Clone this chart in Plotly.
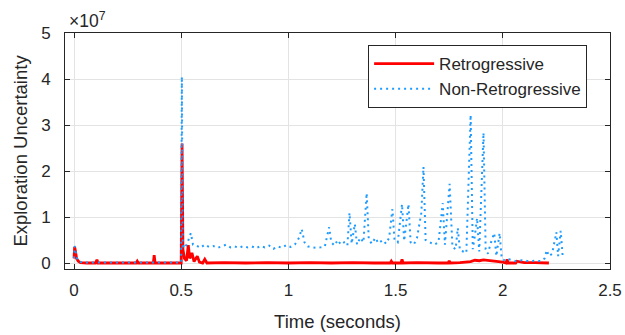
import plotly.graph_objects as go

# Retrogressive series (time in s, value in units of 1e7)
retro_t = [0.000, 0.003, 0.007, 0.012, 0.020, 0.030, 0.060, 0.100, 0.107, 0.112, 0.200,
           0.290, 0.295, 0.300, 0.370, 0.374, 0.378, 0.450, 0.500, 0.504, 0.508, 0.515,
           0.525, 0.533, 0.540, 0.550, 0.560, 0.575, 0.585, 0.600, 0.610, 0.620, 0.700,
           0.800, 0.900, 1.000, 1.100, 1.200, 1.300, 1.400, 1.475, 1.480, 1.485, 1.525,
           1.530, 1.535, 1.600, 1.700, 1.745, 1.750, 1.755, 1.800, 1.850, 1.870, 1.890,
           1.910, 1.930, 1.950, 1.970, 2.000, 2.015, 2.020, 2.025, 2.060, 2.065, 2.100,
           2.150, 2.215]
retro_v = [0.10, 0.35, 0.25, 0.10, 0.04, 0.01, 0.00, 0.00, 0.07, 0.00, 0.00,
           0.00, 0.04, 0.00, 0.00, 0.17, 0.00, 0.00, 0.00, 2.60, 0.30, 0.10,
           0.05, 0.39, 0.10, 0.22, 0.03, 0.15, 0.02, 0.00, 0.08, 0.00, 0.01,
           0.00, 0.01, 0.00, 0.01, 0.00, 0.01, 0.00, 0.00, 0.04, 0.00, 0.00,
           0.08, 0.00, 0.01, 0.00, 0.00, 0.05, 0.00, 0.01, 0.03, 0.06, 0.05,
           0.07, 0.06, 0.04, 0.03, 0.02, 0.00, 0.08, 0.00, 0.00, 0.04, 0.01,
           0.01, 0.00]

# Non-Retrogressive series
nonretro_t = [0.000, 0.003, 0.006, 0.010, 0.015, 0.020, 0.030, 0.050, 0.100, 0.200, 0.300,
              0.370, 0.400, 0.500, 0.503, 0.507, 0.512, 0.520, 0.530, 0.545, 0.555, 0.570,
              0.590, 0.610, 0.630, 0.650, 0.670, 0.690, 0.710, 0.730, 0.750, 0.770, 0.790,
              0.810, 0.830, 0.850, 0.870, 0.890, 0.910, 0.930, 0.950, 0.970, 0.990, 1.010,
              1.030, 1.050, 1.062, 1.075, 1.090, 1.110, 1.130, 1.150, 1.170, 1.190, 1.200,
              1.215, 1.230, 1.245, 1.260, 1.275, 1.285, 1.295, 1.310, 1.320, 1.335, 1.350,
              1.365, 1.375, 1.390, 1.405, 1.420, 1.440, 1.455, 1.470, 1.485, 1.495, 1.510,
              1.530, 1.540, 1.560, 1.570, 1.585, 1.600, 1.620, 1.630, 1.640, 1.660, 1.680,
              1.700, 1.720, 1.730, 1.752, 1.765, 1.780, 1.790, 1.800, 1.815, 1.830, 1.850,
              1.860, 1.870, 1.880, 1.890, 1.910, 1.920, 1.930, 1.945, 1.960, 1.970, 1.985,
              1.995, 2.010, 2.030, 2.060, 2.090, 2.120, 2.150, 2.180, 2.195, 2.205, 2.215,
              2.230, 2.250, 2.258, 2.270, 2.280]
nonretro_v = [0.10, 0.37, 0.30, 0.15, 0.08, 0.04, 0.02, 0.01, 0.01, 0.00, 0.01,
              0.00, 0.01, 0.01, 4.05, 0.30, 0.40, 0.35, 0.45, 0.65, 0.40, 0.38,
              0.33, 0.40, 0.35, 0.37, 0.33, 0.36, 0.40, 0.34, 0.36, 0.33, 0.37,
              0.34, 0.36, 0.32, 0.37, 0.34, 0.38, 0.31, 0.36, 0.33, 0.39, 0.35,
              0.40, 0.55, 0.74, 0.45, 0.36, 0.34, 0.33, 0.34, 0.36, 0.78, 0.45,
              0.38, 0.50, 0.40, 0.45, 0.38, 1.09, 0.42, 0.85, 0.40, 0.55, 0.45,
              1.52, 0.50, 0.42, 0.55, 0.43, 0.50, 0.42, 0.55, 1.17, 0.50, 0.45,
              1.28, 0.48, 1.28, 0.45, 0.40, 0.55, 1.09, 2.09, 0.50, 0.45, 0.40,
              0.45, 1.30, 0.40, 1.72, 0.35, 0.30, 0.76, 0.28, 0.25, 0.22, 3.22,
              0.30, 0.60, 0.98, 0.25, 2.83, 0.30, 0.20, 0.45, 0.65, 0.15, 0.65,
              0.10, 0.05, 0.08, 0.04, 0.06, 0.04, 0.05, 0.04, 0.10, 0.28, 0.15,
              0.20, 0.67, 0.15, 0.70, 0.10]

x_ticks = [0, 0.5, 1, 1.5, 2, 2.5]
x_tick_labels = ["0", "0.5", "1", "1.5", "2", "2.5"]
y_ticks = [0, 1, 2, 3, 4, 5]
y_tick_labels = ["0", "1", "2", "3", "4", "5"]

FONT = "Liberation Sans, Arial, Helvetica, sans-serif"
AX = "#262626"

fig = go.Figure()
fig.add_trace(go.Scatter(x=retro_t, y=retro_v, mode="lines", name="Retrogressive",
                         line=dict(color="#ff0000", width=2.8)))
fig.add_trace(go.Scatter(x=nonretro_t, y=nonretro_v, mode="lines", name="Non-Retrogressive",
                         line=dict(color="#1e9bff", width=2, dash="2px,4px")))

axis_common = dict(showline=True, linecolor=AX, linewidth=1, mirror="ticks",
                   ticks="inside", ticklen=5, tickcolor=AX, showgrid=True,
                   gridcolor="#e3e3e3", gridwidth=1, zeroline=False, automargin=False,
                   tickfont=dict(family=FONT, size=17, color=AX))

fig.update_layout(
    width=625, height=335,
    margin=dict(l=65, r=15, t=33, b=66),
    paper_bgcolor="white", plot_bgcolor="white",
    font=dict(family=FONT, color=AX),
    xaxis=dict(range=[-0.042, 2.5], tickvals=x_ticks, ticktext=x_tick_labels,
               ticklabelstandoff=6,
               title=dict(text="Time (seconds)", font=dict(family=FONT, size=18.5, color=AX),
                          standoff=15), **axis_common),
    yaxis=dict(range=[-0.13, 5], tickvals=y_ticks, ticktext=y_tick_labels,
               ticklabelstandoff=10,
               title=dict(text="Exploration Uncertainty", font=dict(family=FONT, size=18.5, color=AX),
                          standoff=8), **axis_common),
    legend=dict(x=0.958, y=0.949, xanchor="right", yanchor="top",
                bgcolor="white", bordercolor=AX, borderwidth=1,
                font=dict(family=FONT, size=17, color=AX),
                itemwidth=60, tracegroupgap=0),
    annotations=[dict(text="×10<sup>7</sup>", xref="paper", yref="paper", x=0.004, y=1.0,
                      xanchor="left", yanchor="bottom", showarrow=False,
                      font=dict(family=FONT, size=17.5, color=AX))],
    showlegend=True,
)

fig.write_html("out.html")
